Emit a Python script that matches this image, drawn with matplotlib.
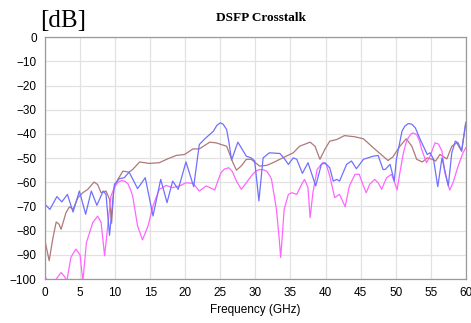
import matplotlib.pyplot as plt

# Values (frequency in GHz, level in dB)
blue_f = [0, 0.7, 1.7, 2.4, 3.2, 4.0, 4.9, 5.8, 6.6, 7.4, 8.3, 8.7, 9.2, 9.9,
          10.6, 11.3, 12.0, 13.2, 14.3, 15.4, 16.5, 17.4, 18.2, 19.0, 20.1,
          21.2, 22.0, 22.8, 24.0, 24.5, 25.0, 25.4, 25.9, 26.2, 26.6, 27.5,
          28.7, 29.4, 29.9, 30.5, 31.1, 32.0, 33.5, 34.2, 34.7, 35.4, 35.9,
          36.7, 37.5, 38.6, 39.4, 39.9, 40.6, 41.1, 41.6, 42.0, 43.0, 43.7,
          44.4, 45.4, 46.8, 47.5, 48.2, 48.5, 49.2, 49.8, 50.1, 50.9, 51.3,
          51.8, 52.3, 52.8, 53.5, 54.5, 54.9, 55.4, 56.0, 56.6, 57.5, 58.0,
          58.5, 58.9, 59.4, 60.0]
blue_db = [-69.1, -71.2, -65.9, -68.1, -65.0, -72.3, -63.6, -73.2, -63.6, -69.5,
           -63.6, -65.0, -81.9, -60.8, -58.5, -58.1, -55.8, -62.6, -58.1, -73.9,
           -58.8, -68.4, -59.5, -62.9, -51.6, -61.8, -44.4, -42.0, -38.9, -36.5,
           -35.4, -36.0, -38.2, -43.0, -50.8, -43.4, -49.2, -49.9, -51.2, -67.7,
           -49.9, -47.8, -48.1, -50.5, -52.6, -49.9, -50.5, -56.3, -51.9, -61.5,
           -52.6, -51.9, -54.0, -59.5, -58.8, -59.5, -52.6, -51.2, -54.4, -50.5,
           -49.2, -48.9, -54.7, -54.7, -52.6, -59.5, -50.5, -38.9, -36.8, -35.7,
           -36.0, -37.5, -42.3, -48.5, -47.8, -50.5, -61.8, -49.9, -61.5, -47.8,
           -43.0, -43.7, -47.1, -35.4]

brown_f = [0, 0.6, 1.1, 1.6, 2.0, 2.3, 3.0, 3.5, 4.0, 4.7, 5.4, 6.1, 7.0, 7.5,
           8.0, 8.7, 9.2, 9.5, 9.8, 10.4, 11.1, 12.0, 12.5, 13.5, 14.9, 16.3,
           17.5, 18.7, 19.9, 21.1, 22.0, 23.5, 24.4, 25.9, 26.8, 27.3, 28.0,
           28.7, 29.4, 30.6, 31.6, 32.5, 33.9, 35.4, 36.3, 37.8, 38.5, 39.2,
           39.9, 40.6, 41.6, 42.7, 44.2, 45.4, 46.8, 48.2, 48.9, 49.6, 50.6,
           51.5, 52.3, 53.0, 53.8, 54.5, 55.2, 55.7, 56.3, 57.3, 58.0, 58.7,
           59.4, 60.0]
brown_db = [-84.2, -92.4, -83.5, -76.4, -77.3, -79.4, -72.5, -70.1, -71.2, -66.3,
            -64.3, -62.9, -59.9, -60.9, -64.3, -63.6, -67.0, -76.9, -62.9, -58.8,
            -55.4, -55.8, -54.7, -51.6, -52.2, -51.9, -50.3, -48.9, -48.5, -46.2,
            -46.2, -43.4, -43.7, -45.1, -51.9, -55.0, -53.2, -50.5, -50.5, -53.3,
            -53.0, -51.9, -49.9, -47.8, -45.1, -43.4, -45.1, -50.5, -46.4, -43.0,
            -42.3, -40.7, -41.2, -42.0, -45.7, -49.2, -51.0, -49.5, -45.1, -42.0,
            -45.1, -50.5, -51.6, -49.9, -50.5, -51.2, -48.5, -50.3, -45.1, -43.7,
            -47.1, -35.2]

magenta_f = [0, 0.4, 1.0, 1.6, 2.3, 2.8, 3.1, 3.7, 4.4, 5.0, 5.4, 5.9, 6.8, 7.5,
             8.0, 8.5, 9.0, 9.4, 9.9, 10.4, 10.9, 11.4, 11.8, 12.2, 12.5, 13.2,
             13.9, 14.7, 15.4, 16.3, 17.3, 18.2, 19.2, 20.1, 21.1, 22.0, 23.0,
             24.2, 24.7, 25.1, 25.6, 26.2, 26.7, 27.3, 28.0, 28.7, 29.6, 30.1,
             30.6, 31.1, 31.6, 32.0, 32.3, 33.0, 33.4, 33.6, 33.8, 34.1, 34.7,
             35.2, 35.9, 36.6, 37.0, 37.5, 37.8, 38.2, 38.8, 39.6, 40.1, 40.6,
             41.3, 42.0, 42.8, 43.4, 44.2, 44.8, 45.4, 45.8, 46.3, 47.0, 47.5,
             48.0, 48.7, 49.4, 49.9, 50.2, 50.6, 51.1, 51.5, 51.8, 52.2, 52.5,
             53.0, 53.4, 53.7, 54.4, 54.9, 55.6, 56.1, 56.6, 57.0, 57.7, 58.2,
             58.9, 59.6, 60.0]
magenta_db = [-98.9, -101.0, -102.0, -100.0, -97.3, -99.0, -101.0, -91.0, -87.6,
              -90.0, -101.0, -85.0, -76.7, -74.0, -76.6, -90.4, -76.6, -65.8,
              -62.0, -60.0, -59.3, -59.6, -60.5, -63.0, -65.7, -78.0, -83.8,
              -78.0, -69.8, -62.9, -61.3, -62.2, -61.5, -60.2, -60.4, -63.6,
              -61.5, -63.2, -59.0, -56.0, -54.5, -54.0, -55.5, -59.5, -62.9,
              -60.2, -56.7, -55.3, -54.7, -54.8, -55.4, -57.0, -58.8, -71.2,
              -83.5, -91.1, -83.5, -71.2, -65.0, -64.3, -65.0, -60.8, -58.8,
              -62.2, -74.6, -64.3, -54.7, -51.9, -52.6, -57.4, -66.3, -65.0,
              -70.1, -61.5, -56.7, -56.7, -61.5, -64.3, -60.8, -58.8, -60.2,
              -62.9, -58.1, -56.7, -60.5, -63.2, -56.0, -47.8, -43.5, -41.6,
              -40.0, -39.6, -40.3, -43.0, -46.4, -51.9, -49.2, -43.7, -44.2,
              -47.1, -56.0, -63.2, -60.0, -53.3, -47.8, -45.7]

x_ticks = list(range(0, 61, 5))
y_ticks = list(range(-100, 1, 10))

fig = plt.figure(figsize=(4.71, 3.23), dpi=100)
ax = fig.add_axes([0.0955, 0.136, 0.8935, 0.749])

style = dict(lw=0.9, solid_joinstyle='round', clip_on=True)
ax.plot(brown_f, brown_db, color='#b07878', **style)
ax.plot(magenta_f, magenta_db, color='#ff66ff', **style)
ax.plot(blue_f, blue_db, color='#7070ff', **style)

ax.set_xlim(0, 60)
ax.set_ylim(-100, 0)
ax.set_xticks(x_ticks)
ax.set_yticks(y_ticks)
ax.grid(True, color='#e2e2e2', lw=0.9)
ax.set_axisbelow(True)
ax.tick_params(length=0, labelsize=8.5, pad=6)
for lab in ax.get_xticklabels() + ax.get_yticklabels():
    lab.set_fontfamily('Liberation Sans')
for s in ax.spines.values():
    s.set_color('#999999')
    s.set_linewidth(0.9)

ax.set_xlabel('Frequency (GHz)', fontsize=8.5, family='Liberation Sans', labelpad=3)
fig.text(0.555, 0.945, 'DSFP Crosstalk', ha='center', va='center',
         fontsize=9.5, fontweight='bold', family='Liberation Serif')
fig.text(0.085, 0.935, '[dB]', ha='left', va='center',
         fontsize=18, family='Liberation Serif')

fig.savefig('out.png', dpi=100)
